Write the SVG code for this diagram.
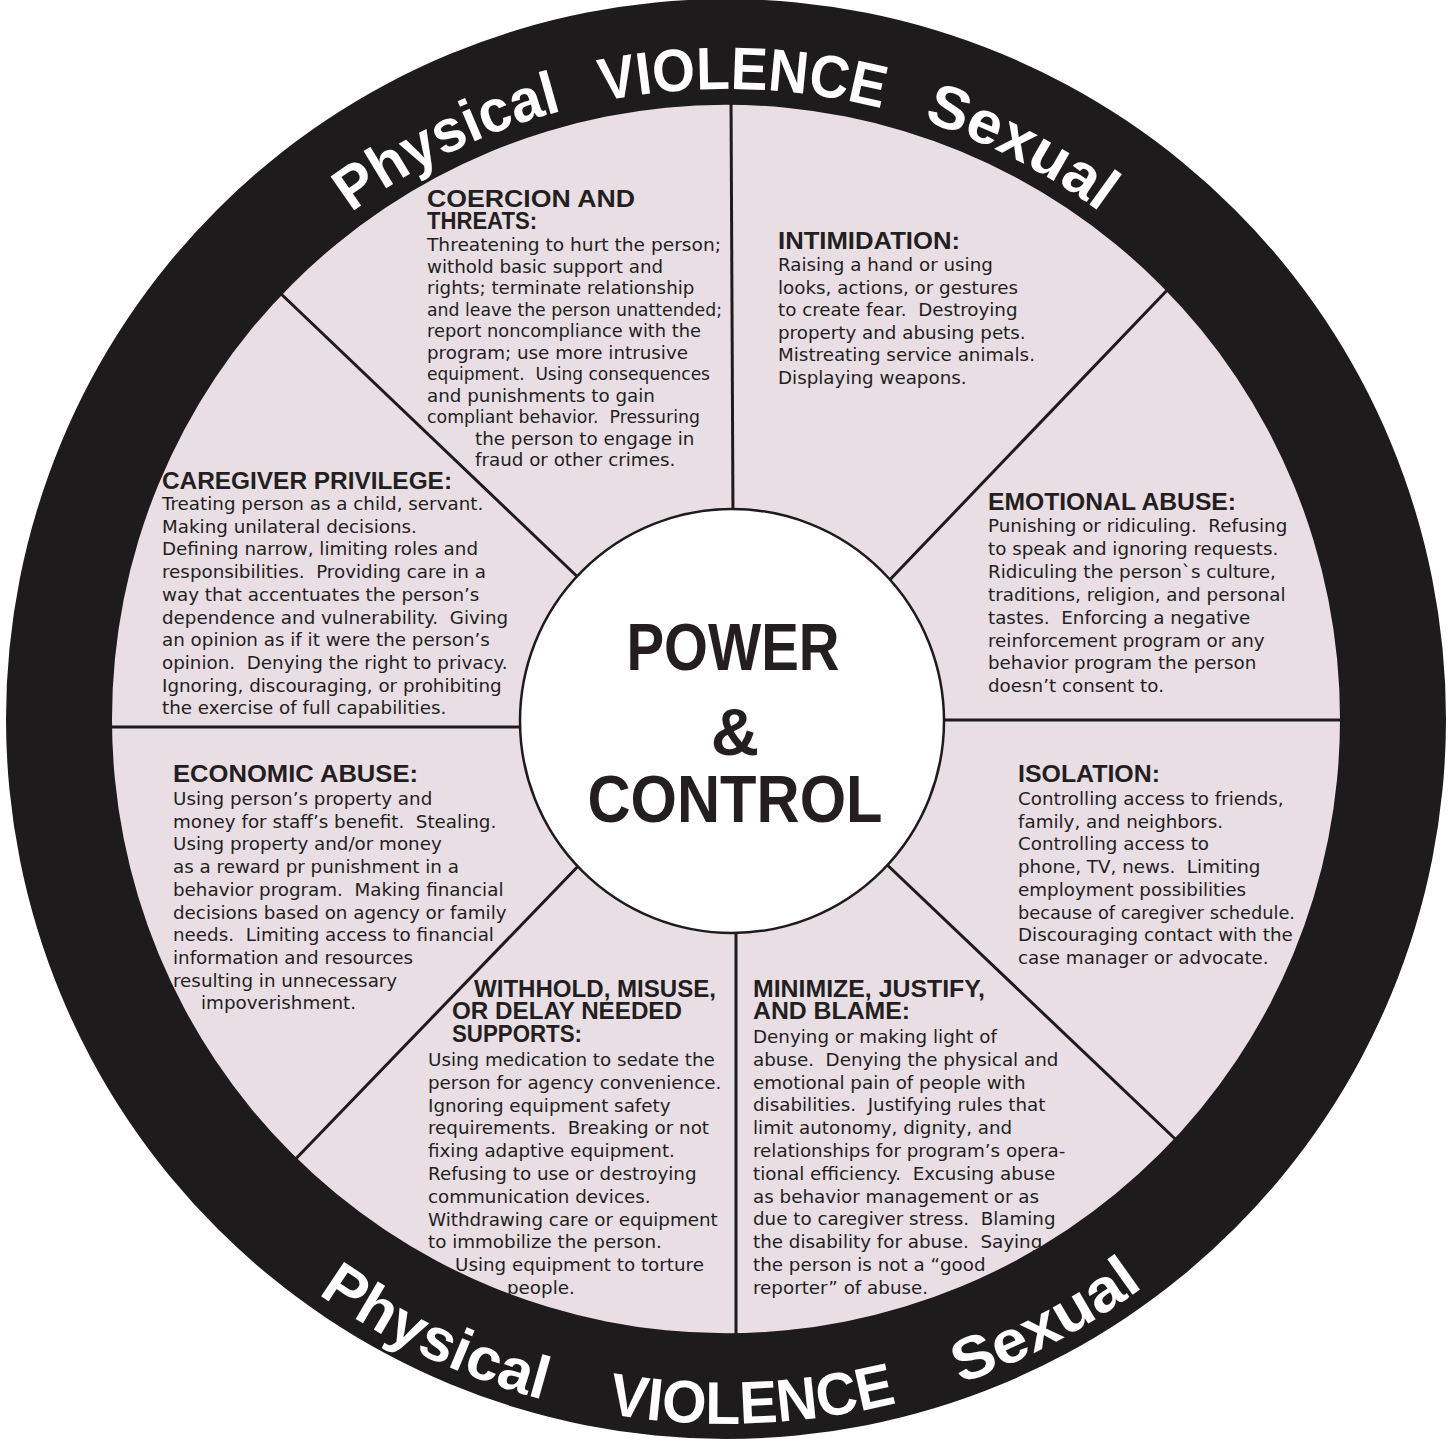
<svg xmlns="http://www.w3.org/2000/svg" xmlns:xlink="http://www.w3.org/1999/xlink" width="1452" height="1439" viewBox="0 0 1452 1439">
  <style>
    .body { font-family: "DejaVu Sans", "Noto Sans", sans-serif; font-size: 18.3px; fill: #231f20; }
    .head { font-family: "Liberation Sans", Arial, sans-serif; font-weight: bold; font-size: 24px; fill: #231f20; }
    .ringtxt { font-family: "Liberation Sans", Arial, sans-serif; font-weight: bold; font-size: 60px; fill: #ffffff; }
    .hub { font-family: "Liberation Sans", Arial, sans-serif; font-weight: bold; font-size: 67px; fill: #231f20; text-anchor: middle; }
    .spoke { stroke: #1e1b1c; stroke-width: 3; stroke-linecap: butt; }
  </style>
  <defs>
    <!-- baseline arcs for the ring lettering -->
    <path id="arcTop" d="M 96 719 A 630 630 0 0 1 1356 719"/>
    <path id="arcBottom" d="M 21 719 A 705 705 0 0 0 1431 719"/>
  </defs>

  <rect width="1452" height="1439" fill="#ffffff"/>

  <!-- wheel face -->
  <circle cx="726" cy="719" r="616" fill="#e8dee4"/>

  <!-- spokes -->
  <g id="connectors">
    <line class="spoke" x1="731" y1="95" x2="733" y2="520"/>
    <line class="spoke" x1="736" y1="920" x2="736" y2="1345"/>
    <line class="spoke" x1="100" y1="727" x2="530" y2="727"/>
    <line class="spoke" x1="935" y1="720" x2="1352" y2="720"/>
    <line class="spoke" x1="278" y1="291" x2="585" y2="584"/>
    <line class="spoke" x1="1174" y1="283" x2="881" y2="589"/>
    <line class="spoke" x1="285" y1="1170" x2="585" y2="859"/>
    <line class="spoke" x1="1192" y1="1155" x2="881" y2="859"/>
  </g>

  <!-- outer ring -->
  <g id="ring">
    <path fill="#1e1b1c" fill-rule="evenodd" d="M 6 719 A 720 720 0 1 0 1446 719 A 720 720 0 1 0 6 719 Z M 112 719 A 614 614 0 1 0 1340 719 A 614 614 0 1 0 112 719 Z"/>
    <text class="ringtxt" text-anchor="middle"><textPath xlink:href="#arcTop" startOffset="706" textLength="236" lengthAdjust="spacingAndGlyphs">Physical</textPath></text>
    <text class="ringtxt" text-anchor="middle"><textPath xlink:href="#arcTop" startOffset="1006" textLength="282" lengthAdjust="spacingAndGlyphs">VIOLENCE</textPath></text>
    <text class="ringtxt" text-anchor="middle"><textPath xlink:href="#arcTop" startOffset="1290" textLength="200" lengthAdjust="spacingAndGlyphs">Sexual</textPath></text>
    <text class="ringtxt" text-anchor="middle"><textPath xlink:href="#arcBottom" startOffset="797" textLength="250" lengthAdjust="spacingAndGlyphs">Physical</textPath></text>
    <text class="ringtxt" text-anchor="middle"><textPath xlink:href="#arcBottom" startOffset="1134" textLength="292" lengthAdjust="spacingAndGlyphs">VIOLENCE</textPath></text>
    <text class="ringtxt" text-anchor="middle"><textPath xlink:href="#arcBottom" startOffset="1450" textLength="208" lengthAdjust="spacingAndGlyphs">Sexual</textPath></text>
  </g>

  <!-- hub -->
  <g id="hub">
    <circle cx="732" cy="721" r="212" fill="#ffffff" stroke="#1e1b1c" stroke-width="2.5"/>
    <text class="hub" x="733" y="670" textLength="213" lengthAdjust="spacingAndGlyphs">POWER</text>
    <text class="hub" x="735" y="755" font-size="58">&amp;</text>
    <text class="hub" x="735" y="822" textLength="295" lengthAdjust="spacingAndGlyphs">CONTROL</text>
  </g>

  <g id="coercion">
    <text class="head" x="427" y="207" textLength="208" lengthAdjust="spacingAndGlyphs">COERCION AND</text>
    <text class="head" x="427" y="229" textLength="110" lengthAdjust="spacingAndGlyphs">THREATS:</text>
    <text class="body" xml:space="preserve"><tspan x="427" y="251" textLength="294" lengthAdjust="spacingAndGlyphs">Threatening to hurt the person;</tspan><tspan x="427" y="272.5">withold basic support and</tspan><tspan x="427" y="294">rights; terminate relationship</tspan><tspan x="427" y="315.5" textLength="295" lengthAdjust="spacingAndGlyphs">and leave the person unattended;</tspan><tspan x="427" y="337" textLength="274" lengthAdjust="spacingAndGlyphs">report noncompliance with the</tspan><tspan x="427" y="358.5">program; use more intrusive</tspan><tspan x="427" y="380" textLength="283" lengthAdjust="spacingAndGlyphs">equipment.  Using consequences</tspan><tspan x="427" y="401.5">and punishments to gain</tspan><tspan x="427" y="423" textLength="273" lengthAdjust="spacingAndGlyphs">compliant behavior.  Pressuring</tspan><tspan x="475" y="444.5">the person to engage in</tspan><tspan x="475" y="466">fraud or other crimes.</tspan></text>
  </g>

  <g id="intimidation">
    <text class="head" x="778" y="249" textLength="182" lengthAdjust="spacingAndGlyphs">INTIMIDATION:</text>
    <text class="body" xml:space="preserve"><tspan x="778" y="271">Raising a hand or using</tspan><tspan x="778" y="293.5">looks, actions, or gestures</tspan><tspan x="778" y="316">to create fear.  Destroying</tspan><tspan x="778" y="338.5">property and abusing pets.</tspan><tspan x="778" y="361">Mistreating service animals.</tspan><tspan x="778" y="383.5">Displaying weapons.</tspan></text>
  </g>

  <g id="caregiver-privilege">
    <text class="head" x="162" y="489" textLength="290" lengthAdjust="spacingAndGlyphs">CAREGIVER PRIVILEGE:</text>
    <text class="body" xml:space="preserve"><tspan x="162" y="510">Treating person as a child, servant.</tspan><tspan x="162" y="532.7">Making unilateral decisions.</tspan><tspan x="162" y="555.4">Defining narrow, limiting roles and</tspan><tspan x="162" y="578.1">responsibilities.  Providing care in a</tspan><tspan x="162" y="600.8">way that accentuates the person’s</tspan><tspan x="162" y="623.5">dependence and vulnerability.  Giving</tspan><tspan x="162" y="646.2">an opinion as if it were the person’s</tspan><tspan x="162" y="668.9">opinion.  Denying the right to privacy.</tspan><tspan x="162" y="691.6">Ignoring, discouraging, or prohibiting</tspan><tspan x="162" y="714.3">the exercise of full capabilities.</tspan></text>
  </g>

  <g id="emotional-abuse">
    <text class="head" x="988" y="510" textLength="248" lengthAdjust="spacingAndGlyphs">EMOTIONAL ABUSE:</text>
    <text class="body" xml:space="preserve"><tspan x="988" y="532">Punishing or ridiculing.  Refusing</tspan><tspan x="988" y="554.9">to speak and ignoring requests.</tspan><tspan x="988" y="577.8">Ridiculing the person`s culture,</tspan><tspan x="988" y="600.7">traditions, religion, and personal</tspan><tspan x="988" y="623.6">tastes.  Enforcing a negative</tspan><tspan x="988" y="646.5">reinforcement program or any</tspan><tspan x="988" y="669.4">behavior program the person</tspan><tspan x="988" y="692.3">doesn’t consent to.</tspan></text>
  </g>

  <g id="economic-abuse">
    <text class="head" x="173" y="782" textLength="245" lengthAdjust="spacingAndGlyphs">ECONOMIC ABUSE:</text>
    <text class="body" xml:space="preserve"><tspan x="173" y="805">Using person’s property and</tspan><tspan x="173" y="827.7">money for staff’s benefit.  Stealing.</tspan><tspan x="173" y="850.4">Using property and/or money</tspan><tspan x="173" y="873.1">as a reward pr punishment in a</tspan><tspan x="173" y="895.8">behavior program.  Making financial</tspan><tspan x="173" y="918.5">decisions based on agency or family</tspan><tspan x="173" y="941.2">needs.  Limiting access to financial</tspan><tspan x="173" y="963.9">information and resources</tspan><tspan x="173" y="986.6">resulting in unnecessary</tspan><tspan x="201" y="1009.3">impoverishment.</tspan></text>
  </g>

  <g id="isolation">
    <text class="head" x="1018" y="782" textLength="142" lengthAdjust="spacingAndGlyphs">ISOLATION:</text>
    <text class="body" xml:space="preserve"><tspan x="1018" y="805">Controlling access to friends,</tspan><tspan x="1018" y="827.7">family, and neighbors.</tspan><tspan x="1018" y="850.4">Controlling access to</tspan><tspan x="1018" y="873.1">phone, TV, news.  Limiting</tspan><tspan x="1018" y="895.8">employment possibilities</tspan><tspan x="1018" y="918.5" textLength="277" lengthAdjust="spacingAndGlyphs">because of caregiver schedule.</tspan><tspan x="1018" y="941.2">Discouraging contact with the</tspan><tspan x="1018" y="963.9">case manager or advocate.</tspan></text>
  </g>

  <g id="withhold-supports">
    <text class="head" x="474" y="997" textLength="242" lengthAdjust="spacingAndGlyphs">WITHHOLD, MISUSE,</text>
    <text class="head" x="452" y="1019" textLength="230" lengthAdjust="spacingAndGlyphs">OR DELAY NEEDED</text>
    <text class="head" x="452" y="1042" textLength="130" lengthAdjust="spacingAndGlyphs">SUPPORTS:</text>
    <text class="body" xml:space="preserve"><tspan x="428" y="1066">Using medication to sedate the</tspan><tspan x="428" y="1088.8">person for agency convenience.</tspan><tspan x="428" y="1111.6">Ignoring equipment safety</tspan><tspan x="428" y="1134.4">requirements.  Breaking or not</tspan><tspan x="428" y="1157.2">fixing adaptive equipment.</tspan><tspan x="428" y="1180">Refusing to use or destroying</tspan><tspan x="428" y="1202.8">communication devices.</tspan><tspan x="428" y="1225.6">Withdrawing care or equipment</tspan><tspan x="428" y="1248.4">to immobilize the person.</tspan><tspan x="455" y="1271.2">Using equipment to torture</tspan><tspan x="507" y="1294">people.</tspan></text>
  </g>

  <g id="minimize-justify-blame">
    <text class="head" x="753" y="997" textLength="232" lengthAdjust="spacingAndGlyphs">MINIMIZE, JUSTIFY,</text>
    <text class="head" x="753" y="1019" textLength="157" lengthAdjust="spacingAndGlyphs">AND BLAME:</text>
    <text class="body" xml:space="preserve"><tspan x="753" y="1043">Denying or making light of</tspan><tspan x="753" y="1065.8">abuse.  Denying the physical and</tspan><tspan x="753" y="1088.6">emotional pain of people with</tspan><tspan x="753" y="1111.4">disabilities.  Justifying rules that</tspan><tspan x="753" y="1134.2">limit autonomy, dignity, and</tspan><tspan x="753" y="1157">relationships for program’s opera-</tspan><tspan x="753" y="1179.8">tional efficiency.  Excusing abuse</tspan><tspan x="753" y="1202.6">as behavior management or as</tspan><tspan x="753" y="1225.4">due to caregiver stress.  Blaming</tspan><tspan x="753" y="1248.2">the disability for abuse.  Saying</tspan><tspan x="753" y="1271">the person is not a “good</tspan><tspan x="753" y="1293.8">reporter” of abuse.</tspan></text>
  </g>
</svg>
